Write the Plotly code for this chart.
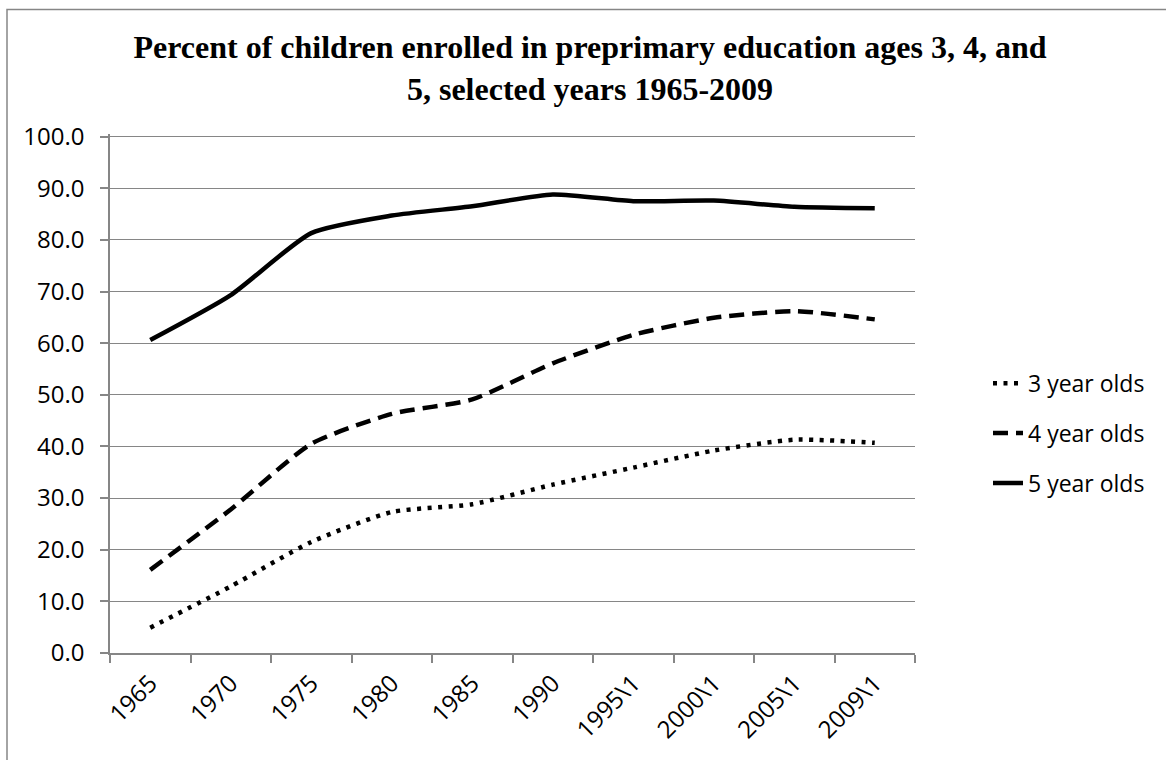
import plotly.graph_objects as go

years = ["1965", "1970", "1975", "1980", "1985", "1990", "1995\\1", "2000\\1", "2005\\1", "2009\\1"]
age3 = [4.9, 12.9, 21.5, 27.3, 28.8, 32.6, 35.9, 39.2, 41.3, 40.7]
age4 = [16.1, 27.8, 40.5, 46.3, 49.1, 56.1, 61.6, 64.9, 66.2, 64.6]
age5 = [60.6, 69.3, 81.3, 84.7, 86.5, 88.8, 87.5, 87.6, 86.4, 86.1]
y_ticks = [0, 10, 20, 30, 40, 50, 60, 70, 80, 90, 100]

W, H = 1166, 760
YMAX = 100.5
L, R, B = 110, 915, 653
T = B - 516 * YMAX / 100.0  # keeps 100 at y=137
pw, ph = R - L, B - T

font_lbl = "Open Sans, Noto Sans, sans-serif"

fig = go.Figure()
fig.add_trace(go.Scatter(x=years, y=age3, mode="lines", name="3 year olds",
                         legendgroup="a",
                         line=dict(color="black", width=4.5, dash="4px,6.5px", shape="spline", smoothing=0.6)))
fig.add_trace(go.Scatter(x=years, y=age4, mode="lines", name="4 year olds",
                         legendgroup="b",
                         line=dict(color="black", width=4.5, dash="15px,8px", shape="spline", smoothing=0.6)))
fig.add_trace(go.Scatter(x=years, y=age5, mode="lines", name="5 year olds",
                         legendgroup="c",
                         line=dict(color="black", width=4.5, shape="spline", smoothing=0.6)))

def px_x(p):
    return (p - L) / pw

def px_y(p):
    return (B - p) / ph

fig.update_layout(
    width=W, height=H,
    margin=dict(l=L, r=W - R, t=T, b=H - B, autoexpand=False),
    paper_bgcolor="white", plot_bgcolor="white",
    title=dict(
        text="<b>Percent of children enrolled in preprimary education ages 3, 4, and<br>5, selected years 1965-2009</b>",
        font=dict(family="Liberation Serif, Times New Roman, serif", size=32, color="black"),
        x=590 / W, xanchor="center", xref="container",
        y=1 - 58 / H, yanchor="top", yref="container",
    ),
    xaxis=dict(
        type="category", range=[-0.5, 9.5], tickson="boundaries",
        showgrid=False, showline=True, linecolor="#868686", linewidth=1.5,
        ticks="outside", ticklen=8, tickcolor="#868686", tickwidth=1.5,
        tickangle=-45, tickfont=dict(family=font_lbl, size=24, color="black"),
        ticklabelstandoff=5,
        fixedrange=True,
    ),
    yaxis=dict(
        range=[0, YMAX], tickvals=y_ticks, ticktext=[f"{v:.1f}" for v in y_ticks],
        showgrid=True, gridcolor="#868686", gridwidth=1,
        showline=True, linecolor="#868686", linewidth=1.5,
        ticks="outside", ticklen=8, tickcolor="#868686", tickwidth=1.5,
        tickfont=dict(family=font_lbl, size=24, color="black"),
        ticklabelstandoff=11,
        zeroline=False, fixedrange=True,
    ),
    legend=dict(
        x=px_x(988), xanchor="left", y=px_y(362), yanchor="top",
        font=dict(family=font_lbl, size=23, color="black"),
        bgcolor="rgba(0,0,0,0)", tracegroupgap=17, traceorder="grouped",
    ),
    shapes=[dict(type="rect", xref="paper", yref="paper",
                 x0=px_x(7), x1=px_x(1180), y0=px_y(780), y1=px_y(10),
                 line=dict(color="#868686", width=1.5), fillcolor="rgba(0,0,0,0)", layer="below")],
)

fig.write_html("out.html")
